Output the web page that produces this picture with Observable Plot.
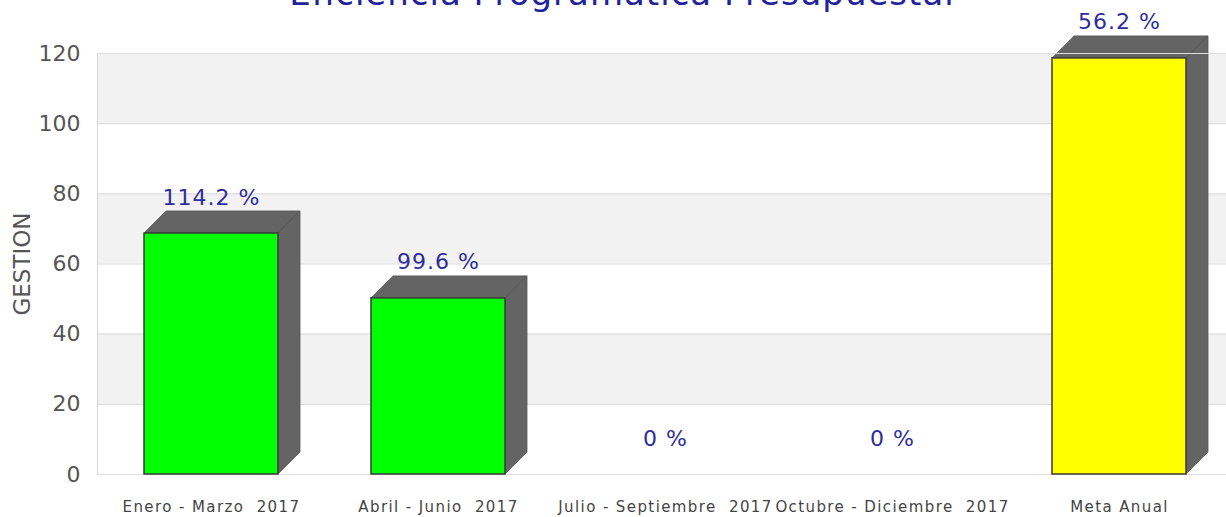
<!DOCTYPE html>
<html><head><meta charset="utf-8">
<script src="https://cdn.jsdelivr.net/npm/d3@7"></script>
<script src="https://cdn.jsdelivr.net/npm/@observablehq/plot@0.6"></script>
<style>
body{margin:0;background:#fff;overflow:hidden}
#wrap{position:relative;width:1226px;height:517px;overflow:hidden}
#title{position:absolute;left:0;width:1244px;text-align:center;top:-24px;font:34px/1 "DejaVu Sans";letter-spacing:1px;color:#22229a;white-space:nowrap}
#chart svg text{white-space:pre}
</style>
</head><body>
<div id="wrap"><div id="chart"></div><div id="title">Eficiencia Programática Presupuestal</div></div>
<script>
const categories = ["Enero - Marzo  2017","Abril - Junio  2017","Julio - Septiembre  2017","Octubre - Diciembre  2017","Meta Anual"];
const values = [68.7, 50.2, 0, 0, 118.6];
const pctLabels = ["114.2 %","99.6 %","0 %","0 %","56.2 %"];
const yTicks = [0,20,40,60,80,100,120];
const shadedBands = [[100,120],[60,80],[20,40]];

const data = categories.map((c,i)=>({cat:c, value:values[i], label:pctLabels[i]}));
const bandData = shadedBands.map(([a,b])=>({y1:a,y2:b}));
const DEPTH = 22;

const depthRender = (index, scales, vals, dims, ctx, next) => {
  const g = next(index, scales, vals, dims, ctx);
  const rects = Array.from(g.querySelectorAll("rect"));
  for (const r of rects) {
    const x = +r.getAttribute("x"), y = +r.getAttribute("y");
    const w = +r.getAttribute("width"), h = +r.getAttribute("height");
    const x1 = x, x2 = x + w, top = y, bot = y + h, d = DEPTH;
    const side = document.createElementNS("http://www.w3.org/2000/svg","polygon");
    side.setAttribute("points", `${x2},${top} ${x2+d},${top-d} ${x2+d},${bot-d} ${x2},${bot}`);
    const topf = document.createElementNS("http://www.w3.org/2000/svg","polygon");
    topf.setAttribute("points", `${x1},${top} ${x1+d},${top-d} ${x2+d},${top-d} ${x2},${top}`);
    for (const p of [side, topf]) { p.setAttribute("fill","#646464"); p.setAttribute("stroke","#555"); p.setAttribute("stroke-width","0.8"); }
    r.replaceWith(side, topf);
  }
  return g;
};

const chart = Plot.plot({
  width: 1226, height: 517,
  marginTop: 53, marginBottom: 43, marginLeft: 97, marginRight: 0,
  style: {fontFamily: "DejaVu Sans", background: "#fff"},
  x: {domain: categories, range: [96, 1233], paddingInner: 0.41, paddingOuter: 0.205},
  y: {domain: [0, 120], range: [474, 53]},
  marks: [
    Plot.rectY(bandData, {y1: "y1", y2: "y2", fill: "#f2f2f2"}),
    Plot.ruleY(yTicks, {stroke: "#dedede", strokeWidth: 1.2}),
    Plot.frame({anchor: "left", stroke: "#d6d6d6"}),
    Plot.barY(data.filter(d => d.value > 0), {x: "cat", y: "value", fill: "#646464", render: depthRender}),
    Plot.barY(data.filter(d => d.value > 0), {x: "cat", y: "value", fill: d => d.cat === "Meta Anual" ? "#ffff00" : "#00ff00", stroke: "#3a3a3a", strokeWidth: 1.5}),
    Plot.ruleY([120], {stroke: "#dedede", strokeWidth: 1.2}),
    Plot.text(data, {x: "cat", y: "value", text: "label", dy: -36, fill: "#2e2e9c", fontSize: 22}),
    Plot.axisY({ticks: yTicks, tickSize: 0, tickPadding: 17, fontSize: 22, color: "#555", label: "GESTION", labelAnchor: "center", labelOffset: 84, labelArrow: "none"}),
    Plot.axisX({tickSize: 0, tickPadding: 27, fontSize: 15, color: "#444", label: null})
  ]
});
chart.querySelectorAll("g[aria-label='x-axis tick label'] text").forEach(t => t.style.letterSpacing = "1.4px");
chart.querySelectorAll("g[aria-label='y-axis label'] text").forEach(t => t.style.fontSize = "23px");
chart.querySelectorAll("g[aria-label='text'] text").forEach(t => t.style.letterSpacing = "1px");
document.getElementById("chart").appendChild(chart);
</script>
</body></html>
